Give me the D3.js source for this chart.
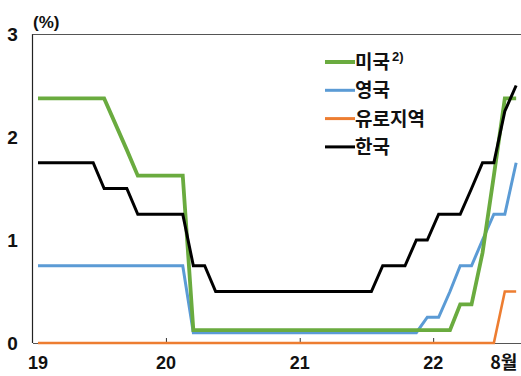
<!DOCTYPE html>
<html>
<head>
<meta charset="utf-8">
<script src="https://cdn.jsdelivr.net/npm/d3@7"></script>
<style>
  html, body { margin: 0; padding: 0; background: #fff; }
  svg { display: block; }
  text { font-family: "Liberation Sans", Arial, sans-serif; font-weight: bold; fill: #111; }
  .kr { font-family: "Noto Sans CJK KR", sans-serif; }
</style>
</head>
<body>
<script>
// Policy rates, month-end, Jan 2019 – Aug 2022 (%)
const usRate = [
  2.375, 2.375, 2.375, 2.375, 2.375, 2.375, 2.375, 2.125, 1.875, 1.625, 1.625, 1.625,
  1.625, 1.625, 0.125, 0.125, 0.125, 0.125, 0.125, 0.125, 0.125, 0.125, 0.125, 0.125,
  0.125, 0.125, 0.125, 0.125, 0.125, 0.125, 0.125, 0.125, 0.125, 0.125, 0.125, 0.125,
  0.125, 0.125, 0.375, 0.375, 0.875, 1.625, 2.375, 2.375
];
const ukRate = [
  0.75, 0.75, 0.75, 0.75, 0.75, 0.75, 0.75, 0.75, 0.75, 0.75, 0.75, 0.75,
  0.75, 0.75, 0.1, 0.1, 0.1, 0.1, 0.1, 0.1, 0.1, 0.1, 0.1, 0.1,
  0.1, 0.1, 0.1, 0.1, 0.1, 0.1, 0.1, 0.1, 0.1, 0.1, 0.1, 0.25,
  0.25, 0.5, 0.75, 0.75, 1.0, 1.25, 1.25, 1.75
];
const euroRate = [
  0, 0, 0, 0, 0, 0, 0, 0, 0, 0, 0, 0,
  0, 0, 0, 0, 0, 0, 0, 0, 0, 0, 0, 0,
  0, 0, 0, 0, 0, 0, 0, 0, 0, 0, 0, 0,
  0, 0, 0, 0, 0, 0, 0.5, 0.5
];
const krRate = [
  1.75, 1.75, 1.75, 1.75, 1.75, 1.75, 1.5, 1.5, 1.5, 1.25, 1.25, 1.25,
  1.25, 1.25, 0.75, 0.75, 0.5, 0.5, 0.5, 0.5, 0.5, 0.5, 0.5, 0.5,
  0.5, 0.5, 0.5, 0.5, 0.5, 0.5, 0.5, 0.75, 0.75, 0.75, 1.0, 1.0,
  1.25, 1.25, 1.25, 1.5, 1.75, 1.75, 2.25, 2.5
];

const seriesNames = ["미국", "영국", "유로지역", "한국"];
const seriesColors = ["#6aab3f", "#5b9bd5", "#ed7d31", "#000000"];
const yTicks = [0, 1, 2, 3];
const xTickLabels = ["19", "20", "21", "22", "8월"];

const W = 521, H = 376;
const months = d3.timeMonths(new Date(2019, 0, 1), new Date(2022, 8, 1));
const mid = d => d3.timeDay.offset(d, 15);

const x = d3.scaleTime()
  .domain([new Date(2019, 0, 1), new Date(2022, 8, 1)])
  .range([32.5, 522]);
const y = d3.scaleLinear().domain([0, 3]).range([343, 34]);

const svg = d3.select("body").append("svg").attr("width", W).attr("height", H);

// frame: left axis and top rule
svg.append("line").attr("x1", 32.5).attr("x2", 32.5).attr("y1", 34).attr("y2", 343)
  .attr("stroke", "#222").attr("stroke-width", 1.2);
svg.append("line").attr("x1", 32.5).attr("x2", W).attr("y1", 34.5).attr("y2", 34.5)
  .attr("stroke", "#555").attr("stroke-width", 1.2);

// bottom axis with inward year ticks
const yearTicks = [new Date(2020, 0, 1), new Date(2021, 0, 1), new Date(2022, 0, 1)];
const xAxis = d3.axisBottom(x).tickValues(yearTicks).tickSizeInner(-5).tickSizeOuter(0).tickFormat("");
const gx = svg.append("g").attr("transform", `translate(0,${y(0)})`).call(xAxis);
gx.select(".domain").attr("stroke", "#555").attr("stroke-width", 1.2);
gx.selectAll(".tick line").attr("stroke", "#333");

// x labels
const xLabelPos = [new Date(2019, 0, 16), new Date(2020, 0, 1), new Date(2021, 0, 1), new Date(2022, 0, 1), new Date(2022, 6, 13)];
svg.selectAll(".xl").data(xTickLabels).enter().append("text")
  .attr("class", (d, i) => i === 4 ? "xl kr" : "xl")
  .attr("x", (d, i) => x(xLabelPos[i]))
  .attr("y", 369)
  .attr("text-anchor", "middle")
  .attr("font-size", 18)
  .text(d => d);

// y labels
svg.selectAll(".yl").data(yTicks).enter().append("text")
  .attr("class", "yl")
  .attr("x", 12.5).attr("y", d => y(d) + 7)
  .attr("text-anchor", "middle")
  .attr("font-size", 19)
  .text(d => d);

svg.append("text").attr("x", 33).attr("y", 28).attr("font-size", 17).text("(%)");

// series lines
const line = d3.line().x((d, i) => x(mid(months[i]))).y(d => y(d));
const drawOrder = [
  { data: euroRate, color: seriesColors[2], w: 2.6 },
  { data: ukRate, color: seriesColors[1], w: 3 },
  { data: usRate, color: seriesColors[0], w: 3.8 },
  { data: krRate, color: seriesColors[3], w: 3 }
];
drawOrder.forEach(s => {
  svg.append("path").datum(s.data)
    .attr("d", line)
    .attr("fill", "none")
    .attr("stroke", s.color)
    .attr("stroke-width", s.w)
    .attr("stroke-linejoin", "miter");
});

// legend
const legendWidths = [4, 3, 3, 3];
const lg = svg.append("g");
seriesNames.forEach((name, i) => {
  const cy = 62 + i * 28.3;
  lg.append("line").attr("x1", 325).attr("x2", 355).attr("y1", cy).attr("y2", cy)
    .attr("stroke", seriesColors[i]).attr("stroke-width", legendWidths[i]);
  const t = lg.append("text").attr("class", "kr")
    .attr("x", 355).attr("y", cy + 7).attr("font-size", 19).text(name);
  if (i === 0) {
    svg.append("text").attr("x", 392).attr("y", cy - 1)
      .attr("font-size", 13).text("2)");
  }
});
</script>
</body>
</html>
